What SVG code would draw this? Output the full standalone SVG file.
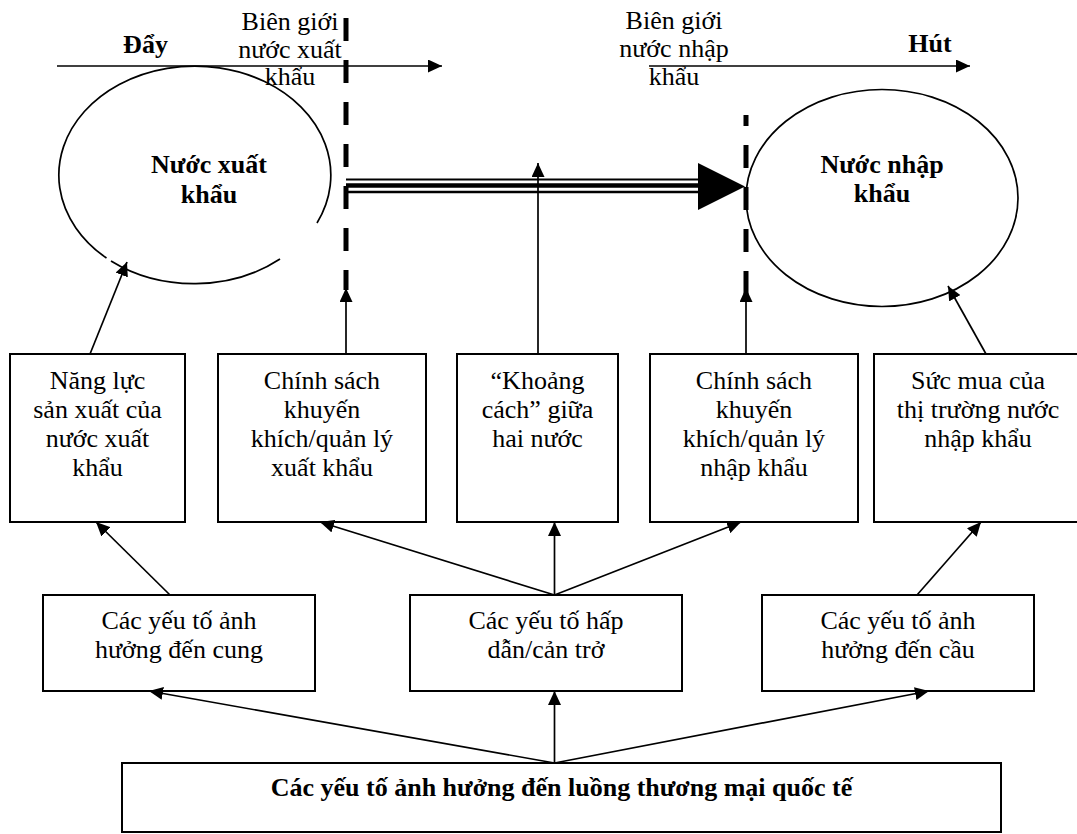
<svg xmlns="http://www.w3.org/2000/svg" width="1077" height="834" viewBox="0 0 1077 834">
<defs>
<style>
text{font-family:"Liberation Serif","Times New Roman",serif;font-size:26px;fill:#000}
.b{font-weight:bold}
.box{fill:#fff;stroke:#000;stroke-width:2}
.ln{fill:none;stroke:#000;stroke-width:1.7}
.dash{fill:none;stroke:#000;stroke-width:5;stroke-dasharray:23 19}
.ell{fill:none;stroke:#000;stroke-width:1.7}
</style>
<marker id="ah" markerUnits="userSpaceOnUse" markerWidth="15" markerHeight="13" refX="14" refY="6.5" orient="auto">
<path d="M0,0 L14,6.5 L0,13 z" fill="#000"/>
</marker>
</defs>
<rect width="1077" height="834" fill="#fff"/>

<g id="labels-top">
<text class="b" x="145.5" y="53" text-anchor="middle">Đẩy</text>
<text x="290" y="30" text-anchor="middle">Biên giới</text>
<text x="290" y="58" text-anchor="middle">nước xuất</text>
<text x="290" y="85" text-anchor="middle">khẩu</text>
<text x="674" y="29" text-anchor="middle">Biên giới</text>
<text x="674" y="57" text-anchor="middle">nước nhập</text>
<text x="674" y="85" text-anchor="middle">khẩu</text>
<text class="b" x="930" y="52" text-anchor="middle">Hút</text>
</g>

<g id="exporter">
<path class="ell" d="M317,223 A136,109 0 1 0 106.5,258"/>
<path class="ell" d="M111,261 A136,109 0 0 0 280,259"/>
<text class="b" x="209" y="173" text-anchor="middle">Nước xuất</text>
<text class="b" x="209" y="203" text-anchor="middle">khẩu</text>
</g>

<g id="importer">
<ellipse class="ell" cx="882" cy="198" rx="136" ry="108.5"/>
<text class="b" x="882" y="173" text-anchor="middle">Nước nhập</text>
<text class="b" x="882" y="202" text-anchor="middle">khẩu</text>
</g>

<g id="border-export">
<line class="dash" x1="346" y1="18" x2="346" y2="290"/>
</g>
<g id="border-import">
<line class="dash" x1="746" y1="115" x2="746" y2="296" stroke-dashoffset="12"/>
</g>

<g id="box1">
<rect class="box" x="10" y="354" width="175" height="168"/>
<text x="97.5" y="389" text-anchor="middle">Năng lực</text>
<text x="97.5" y="418" text-anchor="middle">sản xuất của</text>
<text x="97.5" y="447" text-anchor="middle">nước xuất</text>
<text x="97.5" y="476" text-anchor="middle">khẩu</text>
</g>
<g id="box2">
<rect class="box" x="218" y="354" width="208" height="168"/>
<text x="322" y="389" text-anchor="middle">Chính sách</text>
<text x="322" y="418" text-anchor="middle">khuyến</text>
<text x="322" y="447" text-anchor="middle">khích/quản lý</text>
<text x="322" y="476" text-anchor="middle">xuất khẩu</text>
</g>
<g id="box3">
<rect class="box" x="457" y="354" width="161" height="168"/>
<text x="537.5" y="389" text-anchor="middle">“Khoảng</text>
<text x="537.5" y="418" text-anchor="middle">cách” giữa</text>
<text x="537.5" y="447" text-anchor="middle">hai nước</text>
</g>
<g id="box4">
<rect class="box" x="650" y="354" width="208" height="168"/>
<text x="754" y="389" text-anchor="middle">Chính sách</text>
<text x="754" y="418" text-anchor="middle">khuyến</text>
<text x="754" y="447" text-anchor="middle">khích/quản lý</text>
<text x="754" y="476" text-anchor="middle">nhập khẩu</text>
</g>
<g id="box5">
<rect class="box" x="874" y="354" width="208" height="168"/>
<text x="978" y="389" text-anchor="middle">Sức mua của</text>
<text x="978" y="418" text-anchor="middle">thị trường nước</text>
<text x="978" y="447" text-anchor="middle">nhập khẩu</text>
</g>

<g id="boxA">
<rect class="box" x="43" y="595" width="272" height="96"/>
<text x="179" y="629" text-anchor="middle">Các yếu tố ảnh</text>
<text x="179" y="658" text-anchor="middle">hưởng đến cung</text>
</g>
<g id="boxB">
<rect class="box" x="410" y="595" width="272" height="96"/>
<text x="546" y="629" text-anchor="middle">Các yếu tố hấp</text>
<text x="546" y="658" text-anchor="middle">dẫn/cản trở</text>
</g>
<g id="boxC">
<rect class="box" x="762" y="595" width="272" height="96"/>
<text x="898" y="629" text-anchor="middle">Các yếu tố ảnh</text>
<text x="898" y="658" text-anchor="middle">hưởng đến cầu</text>
</g>
<g id="boxBottom">
<rect class="box" x="122" y="763" width="879" height="69"/>
<text class="b" x="561.5" y="796" text-anchor="middle">Các yếu tố ảnh hưởng đến luồng thương mại quốc tế</text>
</g>

<g id="connectors">
<line class="ln" x1="57" y1="66" x2="442" y2="66" marker-end="url(#ah)"/>
<line class="ln" x1="649" y1="66" x2="970" y2="66" marker-end="url(#ah)"/>
<line x1="346" y1="179.5" x2="700" y2="179.5" stroke="#000" stroke-width="2"/>
<line x1="346" y1="185.5" x2="700" y2="185.5" stroke="#000" stroke-width="4.5"/>
<line x1="346" y1="192" x2="700" y2="192" stroke="#000" stroke-width="2.5"/>
<polygon points="698,163 745,186.5 698,210" fill="#000"/>
<line class="ln" x1="90" y1="354" x2="127" y2="262" marker-end="url(#ah)"/>
<line class="ln" x1="346" y1="354" x2="346" y2="288" marker-end="url(#ah)"/>
<line class="ln" x1="538" y1="354" x2="538" y2="163" marker-end="url(#ah)"/>
<line class="ln" x1="746" y1="354" x2="746" y2="288" marker-end="url(#ah)"/>
<line class="ln" x1="986" y1="354" x2="948" y2="286" marker-end="url(#ah)"/>
<line class="ln" x1="170" y1="595" x2="96" y2="522" marker-end="url(#ah)"/>
<line class="ln" x1="554.5" y1="595" x2="320" y2="522" marker-end="url(#ah)"/>
<line class="ln" x1="554.5" y1="595" x2="554.5" y2="522" marker-end="url(#ah)"/>
<line class="ln" x1="554.5" y1="595" x2="741" y2="522" marker-end="url(#ah)"/>
<line class="ln" x1="917" y1="595" x2="981" y2="522" marker-end="url(#ah)"/>
<line class="ln" x1="554.5" y1="763" x2="149" y2="691" marker-end="url(#ah)"/>
<line class="ln" x1="554.5" y1="763" x2="554.5" y2="691" marker-end="url(#ah)"/>
<line class="ln" x1="554.5" y1="763" x2="929" y2="691" marker-end="url(#ah)"/>
</g>
</svg>
